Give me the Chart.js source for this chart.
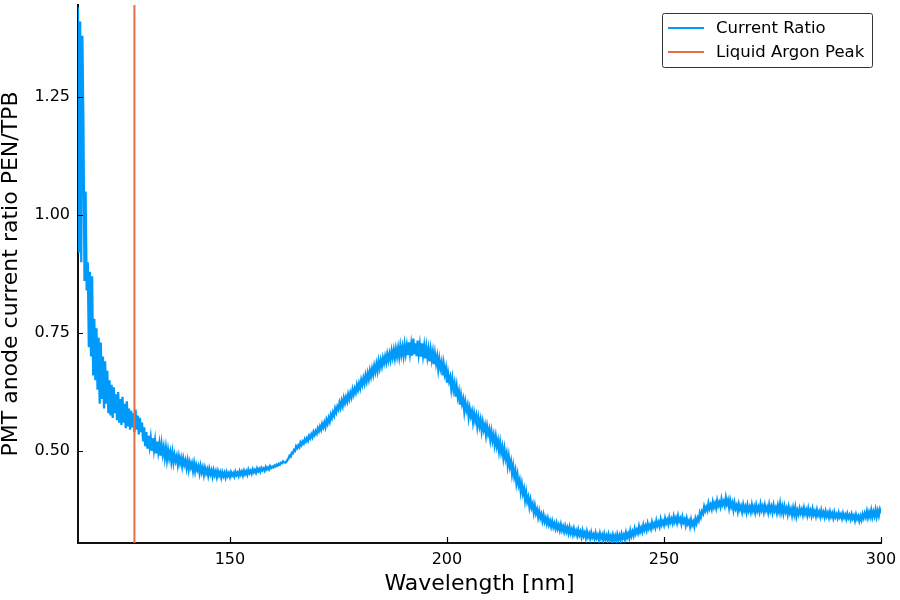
<!DOCTYPE html>
<html>
<head>
<meta charset="utf-8">
<script src="https://cdn.jsdelivr.net/npm/chart.js@4/dist/chart.umd.min.js"></script>
<style>
  html, body { margin: 0; padding: 0; background: #fff; }
  #wrap { width: 900px; height: 600px; }
</style>
</head>
<body>
<div id="wrap"><canvas id="c" width="900" height="600"></canvas></div>
<script>
// ---- data (0.25 nm sampling, 115–300 nm) ----
const wavelengthStart = 115;   // nm
const wavelengthStep = 0.25;   // nm
const currentRatio = [
  1.44, 0.92, 1.41, 0.90, 1.38, 1.19, 0.86, 1.05, 0.84, 0.90, 0.72, 0.88, 0.70, 0.87, 0.66, 0.78, 0.65, 0.76, 0.63, 0.74,
  0.60, 0.73, 0.61, 0.70, 0.59, 0.69, 0.60, 0.67, 0.58, 0.65, 0.575, 0.64, 0.57, 0.635, 0.58, 0.62, 0.565, 0.625, 0.56, 0.61,
  0.555, 0.615, 0.56, 0.60, 0.548, 0.605, 0.552, 0.59, 0.545, 0.585, 0.55, 0.58, 0.54, 0.588, 0.545, 0.575, 0.535, 0.57, 0.54, 0.56,
  0.52, 0.55, 0.51, 0.54, 0.505, 0.532, 0.51, 0.528, 0.50, 0.527, 0.503, 0.522, 0.495, 0.52, 0.498, 0.515, 0.49, 0.514, 0.493, 0.508,
  0.486, 0.506, 0.482, 0.502, 0.485, 0.498, 0.478, 0.497, 0.476, 0.492, 0.479, 0.489, 0.471, 0.488, 0.474, 0.485, 0.468, 0.484, 0.471, 0.48,
  0.464, 0.479, 0.461, 0.476, 0.465, 0.474, 0.458, 0.474, 0.457, 0.47, 0.46, 0.468, 0.453, 0.468, 0.455, 0.465, 0.45, 0.464, 0.453, 0.461,
  0.448, 0.462, 0.451, 0.459, 0.446, 0.459, 0.449, 0.457, 0.445, 0.457, 0.448, 0.455, 0.444, 0.455, 0.447, 0.454, 0.444, 0.455, 0.447, 0.453,
  0.445, 0.455, 0.448, 0.453, 0.446, 0.456, 0.449, 0.454, 0.447, 0.457, 0.45, 0.456, 0.448, 0.458, 0.451, 0.457, 0.45, 0.46, 0.453, 0.458,
  0.452, 0.461, 0.455, 0.46, 0.454, 0.463, 0.457, 0.462, 0.456, 0.464, 0.459, 0.463, 0.458, 0.466, 0.461, 0.465, 0.461, 0.468, 0.464, 0.467,
  0.465, 0.469, 0.467, 0.471, 0.469, 0.473, 0.471, 0.475, 0.474, 0.478, 0.476, 0.475, 0.477, 0.481, 0.484, 0.49, 0.488, 0.496, 0.495, 0.502,
  0.50, 0.51, 0.506, 0.512, 0.508, 0.518, 0.513, 0.52, 0.516, 0.525, 0.52, 0.527, 0.522, 0.532, 0.527, 0.535, 0.529, 0.54, 0.534, 0.542,
  0.537, 0.548, 0.542, 0.552, 0.545, 0.557, 0.55, 0.56, 0.551, 0.566, 0.558, 0.57, 0.562, 0.577, 0.57, 0.582, 0.575, 0.59, 0.582, 0.594,
  0.588, 0.602, 0.592, 0.606, 0.596, 0.612, 0.602, 0.614, 0.605, 0.62, 0.61, 0.623, 0.614, 0.63, 0.62, 0.632, 0.624, 0.64, 0.63, 0.643,
  0.633, 0.65, 0.64, 0.654, 0.643, 0.66, 0.648, 0.664, 0.652, 0.67, 0.658, 0.674, 0.662, 0.68, 0.668, 0.684, 0.67, 0.69, 0.676, 0.692,
  0.68, 0.697, 0.686, 0.70, 0.688, 0.705, 0.692, 0.706, 0.693, 0.712, 0.698, 0.714, 0.697, 0.716, 0.701, 0.718, 0.70, 0.722, 0.704, 0.72,
  0.702, 0.725, 0.706, 0.723, 0.703, 0.73, 0.707, 0.726, 0.702, 0.738, 0.705, 0.728, 0.701, 0.734, 0.706, 0.725, 0.70, 0.728, 0.703, 0.722,
  0.696, 0.72, 0.699, 0.716, 0.69, 0.714, 0.694, 0.71, 0.684, 0.706, 0.686, 0.70, 0.674, 0.694, 0.676, 0.688, 0.66, 0.684, 0.664, 0.676,
  0.645, 0.665, 0.648, 0.657, 0.632, 0.652, 0.63, 0.643, 0.615, 0.636, 0.614, 0.626, 0.598, 0.618, 0.60, 0.61, 0.584, 0.603, 0.587, 0.597,
  0.572, 0.59, 0.574, 0.584, 0.562, 0.58, 0.564, 0.575, 0.552, 0.57, 0.553, 0.566, 0.543, 0.561, 0.545, 0.555, 0.534, 0.552, 0.536, 0.546,
  0.524, 0.541, 0.522, 0.534, 0.513, 0.53, 0.51, 0.522, 0.50, 0.518, 0.497, 0.509, 0.486, 0.504, 0.484, 0.495, 0.47, 0.488, 0.467, 0.478,
  0.452, 0.468, 0.446, 0.458, 0.433, 0.449, 0.428, 0.438, 0.414, 0.43, 0.41, 0.42, 0.396, 0.412, 0.393, 0.402, 0.382, 0.396, 0.38, 0.388,
  0.37, 0.384, 0.368, 0.376, 0.36, 0.372, 0.358, 0.366, 0.352, 0.364, 0.35, 0.358, 0.346, 0.357, 0.344, 0.352, 0.34, 0.351, 0.339, 0.347,
  0.336, 0.347, 0.335, 0.343, 0.332, 0.344, 0.332, 0.34, 0.329, 0.34, 0.329, 0.337, 0.326, 0.338, 0.326, 0.334, 0.323, 0.335, 0.324, 0.331,
  0.321, 0.333, 0.322, 0.329, 0.318, 0.331, 0.32, 0.327, 0.316, 0.329, 0.318, 0.325, 0.315, 0.327, 0.317, 0.323, 0.314, 0.326, 0.316, 0.322,
  0.312, 0.325, 0.315, 0.322, 0.311, 0.324, 0.314, 0.321, 0.31, 0.323, 0.313, 0.32, 0.309, 0.322, 0.312, 0.32, 0.31, 0.323, 0.313, 0.321,
  0.311, 0.324, 0.315, 0.322, 0.313, 0.327, 0.317, 0.325, 0.316, 0.331, 0.32, 0.329, 0.321, 0.335, 0.325, 0.333, 0.326, 0.34, 0.329, 0.337,
  0.329, 0.343, 0.333, 0.341, 0.332, 0.346, 0.336, 0.343, 0.335, 0.349, 0.339, 0.346, 0.338, 0.352, 0.342, 0.349, 0.34, 0.355, 0.344, 0.351,
  0.343, 0.357, 0.347, 0.354, 0.345, 0.359, 0.349, 0.356, 0.347, 0.361, 0.35, 0.358, 0.348, 0.362, 0.351, 0.357, 0.346, 0.36, 0.349, 0.355,
  0.343, 0.357, 0.346, 0.352, 0.34, 0.354, 0.343, 0.35, 0.34, 0.356, 0.347, 0.358, 0.352, 0.368, 0.36, 0.372, 0.367, 0.382, 0.373, 0.381,
  0.374, 0.389, 0.378, 0.386, 0.377, 0.392, 0.381, 0.389, 0.379, 0.395, 0.384, 0.391, 0.382, 0.398, 0.386, 0.393, 0.384, 0.401, 0.388, 0.396,
  0.38, 0.395, 0.382, 0.39, 0.375, 0.39, 0.378, 0.385, 0.372, 0.387, 0.376, 0.383, 0.371, 0.386, 0.374, 0.382, 0.37, 0.385, 0.373, 0.381,
  0.371, 0.386, 0.374, 0.382, 0.37, 0.385, 0.373, 0.381, 0.371, 0.387, 0.375, 0.383, 0.371, 0.385, 0.374, 0.381, 0.37, 0.386, 0.373, 0.382,
  0.37, 0.385, 0.373, 0.38, 0.369, 0.384, 0.372, 0.388, 0.37, 0.382, 0.368, 0.383, 0.371, 0.379, 0.366, 0.381, 0.369, 0.377, 0.364, 0.379,
  0.366, 0.38, 0.362, 0.374, 0.366, 0.378, 0.368, 0.376, 0.365, 0.379, 0.367, 0.375, 0.364, 0.378, 0.366, 0.374, 0.363, 0.377, 0.365, 0.372,
  0.362, 0.375, 0.364, 0.371, 0.361, 0.374, 0.363, 0.37, 0.36, 0.372, 0.362, 0.369, 0.359, 0.371, 0.361, 0.368, 0.358, 0.37, 0.36, 0.366,
  0.358, 0.369, 0.36, 0.366, 0.357, 0.368, 0.359, 0.365, 0.356, 0.367, 0.358, 0.364, 0.355, 0.366, 0.357, 0.363, 0.353, 0.365, 0.356, 0.362,
  0.352, 0.362, 0.354, 0.366, 0.358, 0.368, 0.36, 0.372, 0.359, 0.37, 0.361, 0.374, 0.36, 0.371, 0.362, 0.375, 0.361, 0.373, 0.363, 0.376,
  0.368
];
const argonPeak = 128;          // nm
const xRange = [115, 300];
const yRange = [0.305, 1.445];
const xTicks = [150, 200, 250, 300];
const yTicks = [0.50, 0.75, 1.00, 1.25];
const seriesLabels = ['Current Ratio', 'Liquid Argon Peak'];

// ---- build chart data ----
const ratioPoints = currentRatio.map((v, i) => ({ x: wavelengthStart + i * wavelengthStep, y: v }));
const peakPoints = [{ x: argonPeak, y: yRange[0] }, { x: argonPeak, y: yRange[1] }];

const BLUE = '#009AFA';
const ORANGE = '#E36F47';
const FONT = "'DejaVu Sans', sans-serif";

const innerTicks = {
  id: 'innerTicks',
  afterDatasetsDraw(chart) {
    const { ctx, chartArea, scales } = chart;
    ctx.save();
    ctx.strokeStyle = '#000';
    ctx.lineWidth = 1.2;
    ctx.beginPath();
    scales.x.ticks.forEach(t => {
      const px = Math.round(scales.x.getPixelForValue(t.value)) + 0.5;
      ctx.moveTo(px, chartArea.bottom);
      ctx.lineTo(px, chartArea.bottom - 6);
    });
    scales.y.ticks.forEach(t => {
      const py = Math.round(scales.y.getPixelForValue(t.value)) + 0.5;
      ctx.moveTo(chartArea.left, py);
      ctx.lineTo(chartArea.left + 5, py);
    });
    ctx.stroke();
    ctx.restore();
  }
};

const boxLegend = {
  id: 'boxLegend',
  afterDraw(chart) {
    const { ctx } = chart;
    const x0 = 662.5, y0 = 13.5, w = 210, h = 54, r = 2;
    ctx.save();
    ctx.beginPath();
    ctx.moveTo(x0 + r, y0);
    ctx.arcTo(x0 + w, y0, x0 + w, y0 + h, r);
    ctx.arcTo(x0 + w, y0 + h, x0, y0 + h, r);
    ctx.arcTo(x0, y0 + h, x0, y0, r);
    ctx.arcTo(x0, y0, x0 + w, y0, r);
    ctx.closePath();
    ctx.fillStyle = '#fff';
    ctx.fill();
    ctx.strokeStyle = '#333';
    ctx.lineWidth = 1;
    ctx.stroke();
    chart.data.datasets.forEach((ds, i) => {
      const yy = 28 + i * 24;
      ctx.beginPath();
      ctx.strokeStyle = ds.borderColor;
      ctx.lineWidth = 2;
      ctx.moveTo(668, yy);
      ctx.lineTo(704, yy);
      ctx.stroke();
      ctx.fillStyle = '#000';
      ctx.font = "16.5px " + FONT;
      ctx.textBaseline = 'middle';
      ctx.textAlign = 'left';
      ctx.fillText(ds.label, 716, yy + 0.5);
    });
    ctx.restore();
  }
};

new Chart(document.getElementById('c'), {
  type: 'line',
  data: {
    datasets: [
      { label: seriesLabels[0], data: ratioPoints, borderColor: BLUE, backgroundColor: BLUE,
        borderWidth: 2.3, pointRadius: 0, tension: 0, order: 2 },
      { label: seriesLabels[1], data: peakPoints, borderColor: ORANGE, backgroundColor: ORANGE,
        borderWidth: 2, pointRadius: 0, tension: 0, order: 1 }
    ]
  },
  options: {
    responsive: false,
    animation: false,
    devicePixelRatio: 1,
    parsing: false,
    normalized: true,
    layout: { padding: { left: 0, right: 19, top: 5, bottom: 0 } },
    plugins: { legend: { display: false }, tooltip: { enabled: false } },
    scales: {
      x: {
        type: 'linear',
        min: xRange[0], max: xRange[1],
        afterBuildTicks(s) { s.ticks = xTicks.map(v => ({ value: v })); },
        afterFit(s) { s.height = 57; s.paddingLeft = 0; s.paddingRight = 0; },
        grid: { display: false },
        border: { display: true, color: '#111', width: 2 },
        ticks: { color: '#000', font: { family: FONT, size: 16 }, padding: -1, maxRotation: 0,
                 callback: v => String(v) },
        title: { display: true, text: 'Wavelength [nm]', color: '#000',
                 font: { family: FONT, size: 22, lineHeight: 1 }, padding: { top: 0, bottom: 5 } }
      },
      y: {
        type: 'linear',
        min: yRange[0], max: yRange[1],
        afterBuildTicks(s) { s.ticks = yTicks.map(v => ({ value: v })); },
        afterFit(s) { s.width = 78; s.paddingTop = 0; s.paddingBottom = 0; },
        grid: { display: false },
        border: { display: true, color: '#111', width: 2 },
        ticks: { color: '#000', font: { family: FONT, size: 16 }, padding: 0,
                 callback: v => Number(v).toFixed(2) },
        title: { display: true, text: 'PMT anode current ratio PEN/TPB', color: '#000',
                 font: { family: FONT, size: 22, lineHeight: 1 }, padding: { top: 0, bottom: 0 } }
      }
    }
  },
  plugins: [innerTicks, boxLegend]
});
</script>
</body>
</html>
